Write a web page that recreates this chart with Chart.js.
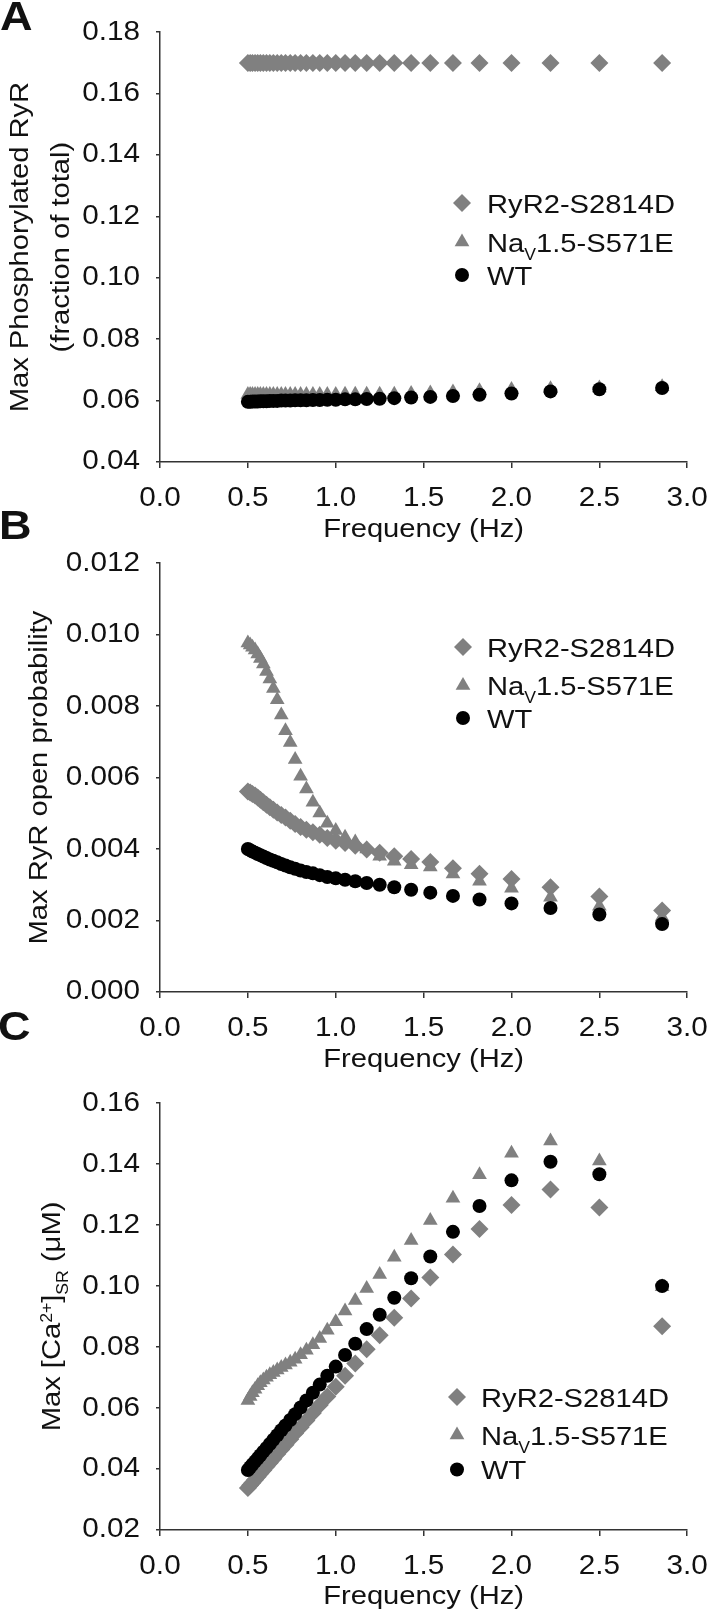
<!DOCTYPE html>
<html>
<head>
<meta charset="utf-8">
<script src="https://cdn.jsdelivr.net/npm/chart.js@4"></script>
<style>
  body { margin: 0; width: 720px; height: 1614px; position: relative; overflow: hidden; background: #fff; }
  canvas { position: absolute; left: 0; }
  .tag { position: absolute; font: bold 41px "Liberation Sans", Arial, sans-serif; line-height: 1; color: #111;
         transform: scaleX(1.1); transform-origin: left top; }
</style>
</head>
<body>
<canvas id="panelA" width="720" height="552" style="top:0"></canvas>
<canvas id="panelB" width="720" height="552" style="top:531px"></canvas>
<canvas id="panelC" width="720" height="552" style="top:1071px"></canvas>
<div class="tag" style="left:0;top:-4px">A</div>
<div class="tag" style="left:-1px;top:505px">B</div>
<div class="tag" style="left:-2px;top:1006px">C</div>
<script>
// --- Data ---
const freq = [0.500, 0.513, 0.526, 0.541, 0.556, 0.571, 0.588, 0.606, 0.625, 0.645, 0.667, 0.690,
  0.714, 0.741, 0.769, 0.800, 0.833, 0.870, 0.909, 0.952, 1.000, 1.053, 1.111, 1.176, 1.250, 1.333,
  1.429, 1.538, 1.667, 1.818, 2.000, 2.222, 2.500, 2.857];

// A: max phosphorylated RyR (fraction of total)
const ryrPhos = [0.170, 0.170, 0.170, 0.170, 0.170, 0.170, 0.170, 0.170, 0.170, 0.170, 0.170, 0.170,
  0.170, 0.170, 0.170, 0.170, 0.170, 0.170, 0.170, 0.170, 0.170, 0.170, 0.170, 0.170, 0.170, 0.170,
  0.170, 0.170, 0.170, 0.170, 0.170, 0.170, 0.170, 0.170];
const navPhos = [0.0620, 0.0620, 0.0620, 0.0620, 0.0620, 0.0620, 0.0620, 0.0620, 0.0620, 0.0620, 0.0620, 0.0620,
  0.0620, 0.0620, 0.0620, 0.0620, 0.0620, 0.0620, 0.0620, 0.0620, 0.0620, 0.0621, 0.0621, 0.0621, 0.0621, 0.0621,
  0.0623, 0.0625, 0.0628, 0.0632, 0.0636, 0.0639, 0.0641, 0.0645];
const wtPhos = [0.0596, 0.0596, 0.0597, 0.0597, 0.0597, 0.0598, 0.0598, 0.0598, 0.0599, 0.0599, 0.0599, 0.0600,
  0.0600, 0.0600, 0.0601, 0.0601, 0.0601, 0.0602, 0.0602, 0.0603, 0.0603, 0.0604, 0.0604, 0.0605, 0.0606, 0.0608,
  0.0610, 0.0612, 0.0615, 0.0619, 0.0623, 0.0630, 0.0637, 0.0641];

// B: max RyR open probability
const ryrOpen = [0.00561, 0.00558, 0.00554, 0.00550, 0.00544, 0.00538, 0.00531, 0.00524, 0.00517, 0.00510, 0.00502, 0.00495,
  0.00488, 0.00479, 0.00470, 0.00462, 0.00454, 0.00447, 0.00440, 0.00431, 0.00423, 0.00417, 0.00409, 0.00399, 0.00390, 0.00380,
  0.00372, 0.00364, 0.00346, 0.00331, 0.00316, 0.00293, 0.00267, 0.00228];
const navOpen = [0.00977, 0.00971, 0.00965, 0.00957, 0.00946, 0.00933, 0.00918, 0.00897, 0.00876, 0.00849, 0.00818, 0.00775,
  0.00731, 0.00698, 0.00651, 0.00604, 0.00568, 0.00531, 0.00501, 0.00472, 0.00452, 0.00433, 0.00420, 0.00400, 0.00380, 0.00366,
  0.00356, 0.00350, 0.00330, 0.00310, 0.00290, 0.00265, 0.00240, 0.00210];
const wtOpen = [0.00400, 0.00397, 0.00393, 0.00390, 0.00386, 0.00383, 0.00379, 0.00375, 0.00371, 0.00367, 0.00363, 0.00358,
  0.00354, 0.00349, 0.00345, 0.00340, 0.00336, 0.00332, 0.00327, 0.00322, 0.00318, 0.00314, 0.00310, 0.00305, 0.00300, 0.00293,
  0.00286, 0.00278, 0.00269, 0.00259, 0.00248, 0.00235, 0.00217, 0.00190];

// C: max [Ca2+]SR (uM)
const ryrCa = [0.0338, 0.0347, 0.0355, 0.0365, 0.0375, 0.0385, 0.0396, 0.0408, 0.0421, 0.0434, 0.0449, 0.0464,
  0.0480, 0.0498, 0.0517, 0.0537, 0.0559, 0.0584, 0.0610, 0.0638, 0.0670, 0.0706, 0.0746, 0.0793, 0.0839, 0.0896,
  0.0959, 0.1028, 0.1104, 0.1187, 0.1266, 0.1317, 0.1258, 0.0868];
const navCa = [0.0625, 0.0638, 0.0650, 0.0662, 0.0673, 0.0683, 0.0692, 0.0701, 0.0709, 0.0717, 0.0725, 0.0733,
  0.0741, 0.0750, 0.0760, 0.0775, 0.0790, 0.0808, 0.0828, 0.0855, 0.0883, 0.0918, 0.0953, 0.0992, 0.1038, 0.1095,
  0.1150, 0.1215, 0.1288, 0.1365, 0.1436, 0.1476, 0.1410, 0.0998];
const wtCa = [0.0397, 0.0406, 0.0415, 0.0425, 0.0435, 0.0445, 0.0457, 0.0469, 0.0482, 0.0496, 0.0511, 0.0527,
  0.0543, 0.0561, 0.0580, 0.0602, 0.0625, 0.0650, 0.0677, 0.0706, 0.0736, 0.0774, 0.0811, 0.0859, 0.0906, 0.0962,
  0.1026, 0.1097, 0.1178, 0.1263, 0.1347, 0.1408, 0.1367, 0.1000];

// --- Ticks & labels ---
const freqTicks = [0, 0.5, 1.0, 1.5, 2.0, 2.5, 3.0];
const phosTicks = [0.04, 0.06, 0.08, 0.10, 0.12, 0.14, 0.16, 0.18];
const openTicks = [0.000, 0.002, 0.004, 0.006, 0.008, 0.010, 0.012];
const caTicks = [0.02, 0.04, 0.06, 0.08, 0.10, 0.12, 0.14, 0.16];

const seriesNames = ['RyR2-S2814D', 'NaV1.5-S571E', 'WT'];
const seriesLabels = [
  [{ t: 'RyR2-S2814D' }],
  [{ t: 'Na' }, { t: 'V', sub: true }, { t: '1.5-S571E' }],
  [{ t: 'WT' }]
];
const caTitle = [{ t: 'Max [Ca' }, { t: '2+', sup: true }, { t: ']' }, { t: 'SR', sub: true }, { t: ' (μM)' }];

// --- Style ---
const FONT = '"Liberation Sans", Arial, sans-serif';
const GRAY = '#808080';
const INK = '#111';
const AXIS = '#333';
const STRETCH = 1.1;   // the figure's lettering is a little wider than Arial

Chart.defaults.font.family = FONT;
Chart.defaults.color = INK;

// --- Helpers ---
function widenText(ctx) {
  const fill = ctx.fillText;
  ctx.fillText = function (text, x, y) {
    this.save();
    this.translate(x, y);
    this.scale(STRETCH, 1);
    fill.call(this, text, 0, 0);
    this.restore();
  };
}

function partFont(p) {
  return (p.sub || p.sup ? 16 : 26.5) + 'px ' + FONT;
}

function partsWidth(ctx, parts) {
  return parts.reduce((w, p) => { ctx.font = partFont(p); return w + ctx.measureText(p.t).width * STRETCH; }, 0);
}

function drawParts(ctx, parts, x, y) {
  parts.forEach(p => {
    ctx.font = partFont(p);
    const dy = p.sub ? 8 : p.sup ? -8 : 0;
    ctx.fillText(p.t, x, y + dy);
    x += ctx.measureText(p.t).width * STRETCH;
  });
}

const sideLegend = {
  id: 'sideLegend',
  afterDatasetsDraw(chart, args, opts) {
    const ctx = chart.ctx;
    ctx.save();
    ctx.textAlign = 'left';
    ctx.textBaseline = 'alphabetic';
    chart.data.datasets.forEach((ds, i) => {
      const y = opts.rows[i];
      ctx.fillStyle = ds.backgroundColor;
      Chart.helpers.drawPoint(ctx, { pointStyle: ds.pointStyle, radius: ds.pointRadius, rotation: 0, borderWidth: 0 }, opts.markerX, y);
      ctx.fillStyle = INK;
      drawParts(ctx, seriesLabels[i], opts.textX, y + 9.5);
    });
    if (opts.yTitle) {
      ctx.translate(opts.yTitle.x, opts.yTitle.y);
      ctx.rotate(-Math.PI / 2);
      drawParts(ctx, caTitle, -partsWidth(ctx, caTitle) / 2, 9.5);
    }
    ctx.restore();
  }
};

function series(i, values, style, radius, color, order) {
  return {
    label: seriesNames[i],
    data: freq.map((f, k) => ({ x: f, y: values[k] })),
    pointStyle: style,
    pointRadius: radius,
    backgroundColor: color,
    borderColor: color,
    pointBorderWidth: 0,
    order: order
  };
}

function buildPanel(id, cfg) {
  const ctx = document.getElementById(id).getContext('2d');
  widenText(ctx);
  return new Chart(ctx, {
    type: 'scatter',
    data: {
      datasets: [
        series(0, cfg.ryr, 'rectRot', 9, GRAY, 2),
        series(1, cfg.nav, 'triangle', 8.5, GRAY, 1),
        series(2, cfg.wt, 'circle', 7, '#000', 0)
      ]
    },
    options: {
      responsive: false,
      animation: false,
      events: [],
      layout: { padding: { top: 32, right: cfg.right, bottom: 0, left: 0 } },
      plugins: { legend: { display: false }, tooltip: { enabled: false }, sideLegend: cfg.legend },
      scales: {
        x: {
          type: 'linear', min: 0, max: 3,
          afterBuildTicks: s => { s.ticks = freqTicks.map(v => ({ value: v })); },
          afterFit: s => { s.height = cfg.xHeight; },
          ticks: { autoSkip: false, maxRotation: 0, padding: 14, font: { size: 27 }, color: INK, callback: v => v.toFixed(1) },
          grid: { drawOnChartArea: false, tickLength: 6, color: AXIS, lineWidth: 1.5 },
          border: { color: AXIS, width: 1.5 },
          title: { display: true, text: 'Frequency (Hz)', font: { size: 26.5 }, color: INK, padding: { top: 0, bottom: cfg.xTitlePad } }
        },
        y: {
          type: 'linear', min: cfg.ticks[0], max: cfg.ticks[cfg.ticks.length - 1],
          afterBuildTicks: s => { s.ticks = cfg.ticks.map(v => ({ value: v })); },
          afterFit: s => { s.width = 160; },
          ticks: { autoSkip: false, padding: 16, font: { size: 27 }, color: INK, callback: v => v.toFixed(cfg.digits) },
          grid: { drawOnChartArea: false, tickLength: 4, color: AXIS, lineWidth: 1.5 },
          border: { color: AXIS, width: 1.5 },
          title: cfg.yTitle
            ? { display: true, text: cfg.yTitle, color: INK, font: { size: 26.5, lineHeight: cfg.yLine }, padding: { top: cfg.yPad, bottom: 0 } }
            : { display: false }
        }
      }
    },
    plugins: [sideLegend]
  });
}

// --- Panels ---
buildPanel('panelA', {
  ryr: ryrPhos, nav: navPhos, wt: wtPhos, ticks: phosTicks, digits: 2,
  right: 20, xHeight: 90, xTitlePad: 6.6,
  yTitle: ['Max Phosphorylated RyR', '(fraction of total)'], yLine: 1.55, yPad: 0,
  legend: { markerX: 462, textX: 487, rows: [203, 242, 275] }
});

buildPanel('panelB', {
  ryr: ryrOpen, nav: navOpen, wt: wtOpen, ticks: openTicks, digits: 3,
  right: 20, xHeight: 91, xTitlePad: 7.6,
  yTitle: 'Max RyR open probability', yLine: 1.2, yPad: 23.4,
  legend: { markerX: 463, textX: 487, rows: [116, 154.5, 187] }
});

buildPanel('panelC', {
  ryr: ryrCa, nav: navCa, wt: wtCa, ticks: caTicks, digits: 2,
  right: 23, xHeight: 93, xTitlePad: 10.6,
  yTitle: null,
  legend: { markerX: 457, textX: 481, rows: [326, 364, 398.5], yTitle: { x: 50.8, y: 245.5 } }
});
</script>
</body>
</html>
